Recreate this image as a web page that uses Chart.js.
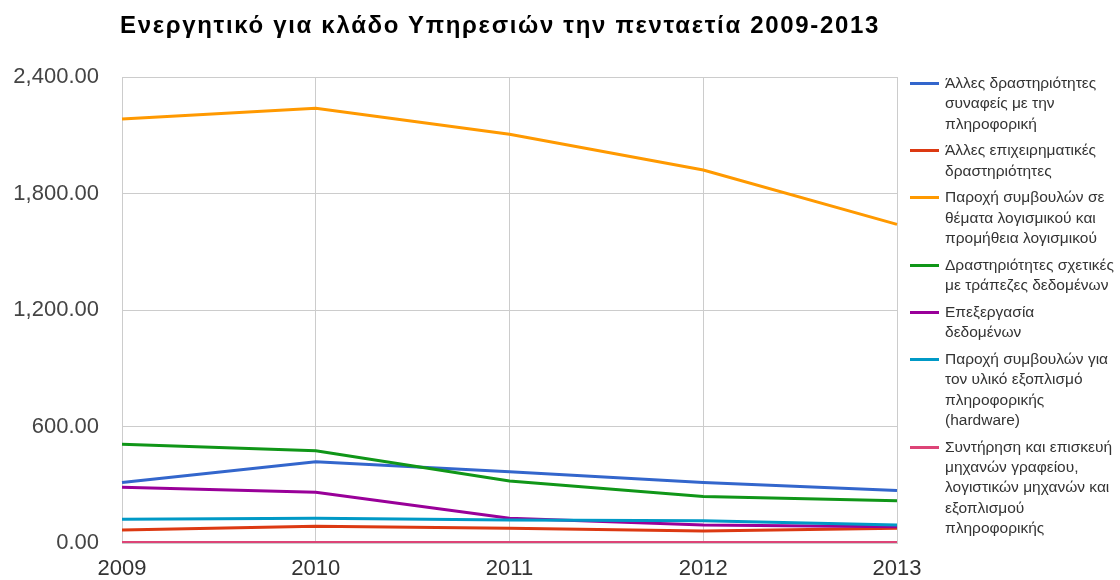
<!DOCTYPE html>
<html><head><meta charset="utf-8">
<script src="https://cdn.jsdelivr.net/npm/chart.js@4.4.1/dist/chart.umd.min.js"></script>
<style>
html,body{margin:0;padding:0;background:#fff;}
#wrap{position:relative;width:1120px;height:580px;font-family:"Liberation Sans",Arial,sans-serif;}
#title{position:absolute;left:120px;top:11px;font-size:24px;font-weight:bold;color:#000;white-space:nowrap;}
#legend{position:absolute;left:910px;top:73px;font-size:15.5px;color:#333;line-height:20.3px;}
.item{position:relative;padding-left:35px;margin-bottom:6.5px;white-space:nowrap;}
.sw{position:absolute;left:0;top:9px;width:29px;height:3px;}
canvas{position:absolute;left:0;top:0;}
</style></head>
<body><div id="wrap"><canvas id="c" width="1120" height="580"></canvas><div id="title">Ενεργητικό για κλάδο Υπηρεσιών την πενταετία 2009-2013</div><div id="legend"></div></div>
<script>
const years = ['2009','2010','2011','2012','2013'];
const yTicks = [0, 600, 1200, 1800, 2400];
const labels = [
  'Άλλες δραστηριότητες\nσυναφείς με την\nπληροφορική',
  'Άλλες επιχειρηματικές\nδραστηριότητες',
  'Παροχή συμβουλών σε\nθέματα λογισμικού και\nπρομήθεια λογισμικού',
  'Δραστηριότητες σχετικές\nμε τράπεζες δεδομένων',
  'Επεξεργασία\nδεδομένων',
  'Παροχή συμβουλών για\nτον υλικό εξοπλισμό\nπληροφορικής\n(hardware)',
  'Συντήρηση και επισκευή\nμηχανών γραφείου,\nλογιστικών μηχανών και\nεξοπλισμού\nπληροφορικής'
];
const otherIT = [311, 419, 367, 312, 270];
const otherBusiness = [67, 86, 76, 62, 76];
const softwareConsulting = [2184, 2239, 2105, 1921, 1641];
const databaseActivities = [508, 475, 319, 239, 218];
const dataProcessing = [287, 261, 127, 93, 84];
const hardwareConsulting = [122, 127, 118, 115, 93];
const maintenance = [3, 3, 3, 3, 3];
const colors = ['#3366cc','#dc3912','#ff9900','#109618','#990099','#0099c6','#dd4477'];
const series = [otherIT, otherBusiness, softwareConsulting, databaseActivities, dataProcessing, hardwareConsulting, maintenance];

// fit title width to reference span
const tEl = document.getElementById('title');
const targetW = 760;
const w0 = tEl.getBoundingClientRect().width;
const n = tEl.textContent.length;
tEl.style.letterSpacing = ((targetW - w0) / n) + 'px';

const datasets = series.map((d,i)=>({label: labels[i].replace(/\n/g,' '), data: d, borderColor: colors[i], backgroundColor: colors[i], borderWidth: 3, pointRadius: 0, tension: 0, fill:false}));

const leg = document.getElementById('legend');
labels.forEach((l,i)=>{
  const it = document.createElement('div'); it.className='item';
  const sw = document.createElement('div'); sw.className='sw'; sw.style.background=colors[i];
  it.appendChild(sw);
  l.split('\n').forEach(t=>{const d=document.createElement('div'); d.textContent=t; it.appendChild(d);});
  leg.appendChild(it);
});

const tickFont = { family: '"Liberation Sans", Arial, sans-serif', size: 22 };
new Chart(document.getElementById('c'), {
  type: 'line',
  data: { labels: years, datasets: datasets.slice().reverse() },
  options: {
    responsive: false, animation: false,
    layout: { padding: { top: 77, right: 223, left: 0, bottom: 0 } },
    plugins: { legend: { display: false }, title: { display: false }, tooltip: { enabled: false } },
    scales: {
      x: { offset: false, grid: { color: '#cccccc', drawTicks: false }, border: { color: '#cccccc' },
           afterFit: s => { s.height = 37; },
           ticks: { padding: 13, color: '#333', font: tickFont, maxRotation: 0 } },
      y: { min: 0, max: 2400, grid: { color: '#cccccc', drawTicks: false }, border: { color: '#cccccc' },
           afterFit: s => { s.width = 122; },
           afterBuildTicks: (ax)=>{ ax.ticks = yTicks.map(v=>({value:v})); },
           ticks: { padding: 23, color: '#444', font: tickFont,
             callback: v => Number(v).toLocaleString('en-US',{minimumFractionDigits:2, maximumFractionDigits:2}) } }
    }
  }
});
</script></body></html>
